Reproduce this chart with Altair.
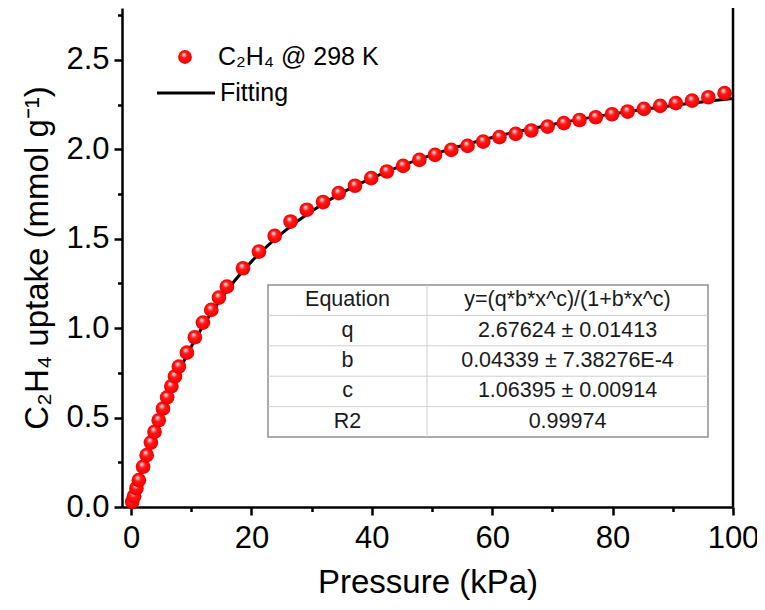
import altair as alt
import pandas as pd

# ---------------- data ----------------
pressure = [0.2, 0.5, 0.9, 1.3, 2.0, 2.6, 3.3, 3.9, 4.6, 5.3, 6.0, 6.7, 7.3,
            7.95, 9.28, 10.6, 11.94, 13.33, 14.6, 15.93, 18.6, 21.25, 23.86,
            26.5, 29.2, 31.9, 34.5, 37.2, 39.9, 42.5, 45.2, 47.9, 50.5, 53.2,
            55.9, 58.5, 61.2, 63.9, 66.5, 69.2, 71.9, 74.5, 77.2, 79.9, 82.5,
            85.2, 87.9, 90.5, 93.2, 95.9, 98.6]
uptake = [0.03, 0.06, 0.105, 0.15, 0.225, 0.29, 0.36, 0.42, 0.485, 0.55, 0.613, 0.675, 0.73,
          0.785, 0.863, 0.949, 1.031, 1.102, 1.171, 1.232, 1.335, 1.428, 1.516,
          1.596, 1.662, 1.705, 1.755, 1.796, 1.839, 1.876, 1.907, 1.941, 1.969, 1.997,
          2.019, 2.043, 2.068, 2.086, 2.105, 2.127, 2.146, 2.164, 2.179, 2.196, 2.211,
          2.226, 2.243, 2.258, 2.272, 2.291, 2.314]

fit_pressure = [0, 0.5, 1, 2, 3, 4, 5, 6, 8, 10, 12, 15, 20, 25, 30, 35, 40, 50,
                60, 70, 80, 90, 100]
fit_uptake = [0.0, 0.054, 0.111, 0.223, 0.328, 0.427, 0.519, 0.605, 0.760, 0.896,
              1.015, 1.168, 1.372, 1.529, 1.654, 1.756, 1.839, 1.969, 2.066, 2.139,
              2.198, 2.245, 2.284]

table_labels = ["Equation", "q", "b", "c", "R2"]
table_values = ["y=(q*b*x^c)/(1+b*x^c)", "2.67624 \u00b1 0.01413",
                "0.04339 \u00b1 7.38276E-4", "1.06395 \u00b1 0.00914", "0.99974"]

legend_labels = ["C\u2082H\u2084 @ 298 K", "Fitting"]

x_ticks = [0, 10, 20, 30, 40, 50, 60, 70, 80, 90, 100]
y_ticks = [0, 0.25, 0.5, 0.75, 1.0, 1.25, 1.5, 1.75, 2.0, 2.25, 2.5, 2.75]

x_domain = [-1.5, 100]
y_domain = [0, 2.79]

# ---------------- layout ----------------
W, H = 611, 499
FONT = "Liberation Sans"

# table layout (plot pixels)
T_LEFT, T_MID, T_RIGHT = 146, 305, 586
T_TOP, T_ROW = 277, 30.4

sphere = alt.RadialGradient(
    gradient="radial", x1=0.4, y1=0.3, r1=0.0, x2=0.5, y2=0.5, r2=0.55,
    stops=[alt.GradientStop(offset=0.0, color="#ffffff"),
           alt.GradientStop(offset=0.16, color="#ffa0a0"),
           alt.GradientStop(offset=0.38, color="#ff1a1a"),
           alt.GradientStop(offset=0.85, color="#f80000"),
           alt.GradientStop(offset=1.0, color="#dd0000")])

xs = alt.Scale(domain=x_domain, nice=False, zero=False)
ys = alt.Scale(domain=y_domain, nice=False, zero=False)

x_axis = alt.Axis(
    title="Pressure (kPa)", values=x_ticks, grid=False,
    labelExpr="datum.value % 20 == 0 ? datum.label : ''",
    tickSize={"expr": "datum.value % 20 == 0 ? 8 : 4.5"},
    labelPadding=8, titlePadding=13, labelFlush=False, labelOverlap=False)
y_axis = alt.Axis(
    title="C\u2082H\u2084 uptake (mmol g\u207b\u00b9)", values=y_ticks, grid=False,
    labelExpr="round(datum.value*4) % 2 == 0 ? format(datum.value, '.1f') : ''",
    tickSize={"expr": "round(datum.value*4) % 2 == 0 ? 8 : 4.5"},
    labelPadding=5, titlePadding=11, labelFlush=False, labelOverlap=False)

df = pd.DataFrame({"p": pressure, "u": uptake})
fit = pd.DataFrame({"p": fit_pressure, "u": fit_uptake})

points = alt.Chart(df).mark_circle(size=215, opacity=1, fill=sphere).encode(
    x=alt.X("p:Q", scale=xs, axis=x_axis),
    y=alt.Y("u:Q", scale=ys, axis=y_axis),
)
line = alt.Chart(fit).mark_line(color="black", strokeWidth=3, interpolate="monotone").encode(
    x=alt.X("p:Q", scale=xs), y=alt.Y("u:Q", scale=ys))

right_frame = alt.Chart(pd.DataFrame({"x": [x_domain[1]], "y": [y_domain[0]], "y2": [y_domain[1]]})).mark_rule(
    color="black", strokeWidth=2.5).encode(x=alt.X("x:Q", scale=xs), y=alt.Y("y:Q", scale=ys), y2="y2:Q")

# ---- legend ----
leg_sym = alt.Chart(pd.DataFrame({"k": [0]})).mark_circle(size=190, opacity=1, fill=sphere).encode(
    x=alt.value(63), y=alt.value(49))
leg_line = alt.Chart(pd.DataFrame({"k": [0]})).mark_rule(color="black", strokeWidth=3).encode(
    x=alt.value(35), x2=alt.value(93), y=alt.value(85))
leg_text = alt.Chart(pd.DataFrame({"t": legend_labels, "yy": [49, 85], "xx": [96, 98]})).mark_text(
    align="left", baseline="middle", font=FONT, fontSize=25, color="black").encode(
    x=alt.X("xx:Q", scale=None, axis=None), y=alt.Y("yy:Q", scale=None, axis=None), text="t:N")

# ---- table ----
n = len(table_labels)
box = alt.Chart(pd.DataFrame({"x": [T_LEFT], "x2": [T_RIGHT], "y": [T_TOP], "y2": [T_TOP + n * T_ROW]})).mark_rect(
    fill="white", stroke="#8f8f8f", strokeWidth=1.5).encode(
    x=alt.X("x:Q", scale=None, axis=None), x2="x2:Q", y=alt.Y("y:Q", scale=None, axis=None), y2="y2:Q")
hl = alt.Chart(pd.DataFrame({"y": [T_TOP + i * T_ROW for i in range(1, n)]})).mark_rule(
    color="#d0d0d0", strokeWidth=1).encode(
    x=alt.value(T_LEFT), x2=alt.value(T_RIGHT), y=alt.Y("y:Q", scale=None, axis=None))
vl = alt.Chart(pd.DataFrame({"k": [0]})).mark_rule(color="#d0d0d0", strokeWidth=1).encode(
    x=alt.value(T_MID), y=alt.value(T_TOP), y2=alt.value(T_TOP + n * T_ROW))
rows = pd.DataFrame({
    "label": table_labels, "value": table_values,
    "y": [T_TOP + (i + 0.5) * T_ROW for i in range(n)],
})
t1 = alt.Chart(rows).mark_text(font=FONT, fontSize=21.5, color="#1a1a1a", baseline="middle").encode(
    x=alt.value((T_LEFT + T_MID) / 2), y=alt.Y("y:Q", scale=None, axis=None), text="label:N")
t2 = alt.Chart(rows).mark_text(font=FONT, fontSize=21.5, color="#1a1a1a", baseline="middle").encode(
    x=alt.value((T_MID + T_RIGHT) / 2), y=alt.Y("y:Q", scale=None, axis=None), text="value:N")

chart = alt.layer(
    line, points, right_frame, leg_sym, leg_line, leg_text, box, hl, vl, t1, t2
).properties(
    width=W, height=H,
    autosize=alt.AutoSizeParams(type="none"),
    padding={"left": 114, "top": 0, "right": 24, "bottom": 95},
).configure_view(stroke=None).configure_axis(
    domainColor="black", domainWidth=2.5, tickColor="black", tickWidth=2.5,
    labelFont=FONT, labelFontSize=31, labelColor="black",
    titleFont=FONT, titleFontSize=33, titleColor="black", titleFontWeight="normal",
)

chart.save("out.html", embed_options={"renderer": "svg", "actions": False})
